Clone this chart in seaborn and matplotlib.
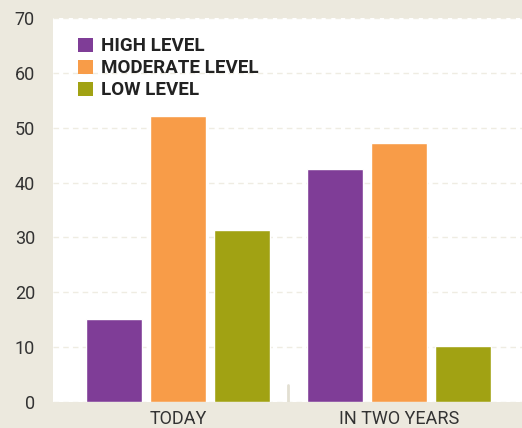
import matplotlib
matplotlib.use('Agg')
import matplotlib.pyplot as plt
import pandas as pd
import seaborn as sns
from matplotlib.patches import Patch

periods = ['TODAY', 'IN TWO YEARS']
levels = ['HIGH LEVEL', 'MODERATE LEVEL', 'LOW LEVEL']
high = [15.2, 42.5]
moderate = [52.1, 47.3]
low = [31.4, 10.2]
colors = ['#7f3d97', '#f89c48', '#a1a213']

bg = '#ece9de'

rows = []
for i, p in enumerate(periods):
    rows.append((p, levels[0], high[i]))
    rows.append((p, levels[1], moderate[i]))
    rows.append((p, levels[2], low[i]))
df = pd.DataFrame(rows, columns=['period', 'level', 'value'])

sns.set_style('white')
plt.rcParams['font.family'] = ['Roboto', 'DejaVu Sans']

fig = plt.figure(figsize=(5.22, 4.28), dpi=100, facecolor=bg)
ax = fig.add_axes([53 / 522, 26 / 428, 469 / 522, 384 / 428])
ax.set_facecolor('white')

sns.barplot(
    data=df,
    x='period',
    y='value',
    hue='level',
    hue_order=levels,
    palette=colors,
    width=0.869,
    gap=0.125,
    saturation=1,
    legend=False,
    ax=ax,
)

ax.set_ylim(0, 70)
ax.set_xlim(-0.566, 1.557)
ax.set_yticks(range(0, 71, 10))
ax.yaxis.grid(True, linestyle=(0, (4, 3)), color='#efece2', linewidth=1)
ax.set_axisbelow(True)
for s in ax.spines.values():
    s.set_visible(False)
ax.tick_params(axis='both', length=0, labelsize=13, labelcolor='#333333')
ax.tick_params(axis='y', pad=13)
ax.tick_params(axis='x', pad=6)
ax.set_xlabel('')
ax.set_ylabel('')

# small separator between the groups
ax.axvline(0.5, ymin=0, ymax=17 / 384, color='#e2dfd2', linewidth=2)

handles = [Patch(facecolor=c, edgecolor='none') for c in colors]
leg = ax.legend(
    handles, levels,
    loc='upper left',
    bbox_to_anchor=(0.053, 0.95),
    borderpad=0,
    borderaxespad=0,
    frameon=False,
    handlelength=0.8,
    handleheight=0.8,
    handletextpad=0.45,
    labelspacing=0.22,
    prop={'family': ['Roboto', 'DejaVu Sans'], 'weight': 'bold', 'size': 13.5},
)
for t in leg.get_texts():
    t.set_color('#222222')

fig.savefig('out.png', dpi=100, facecolor=bg)
